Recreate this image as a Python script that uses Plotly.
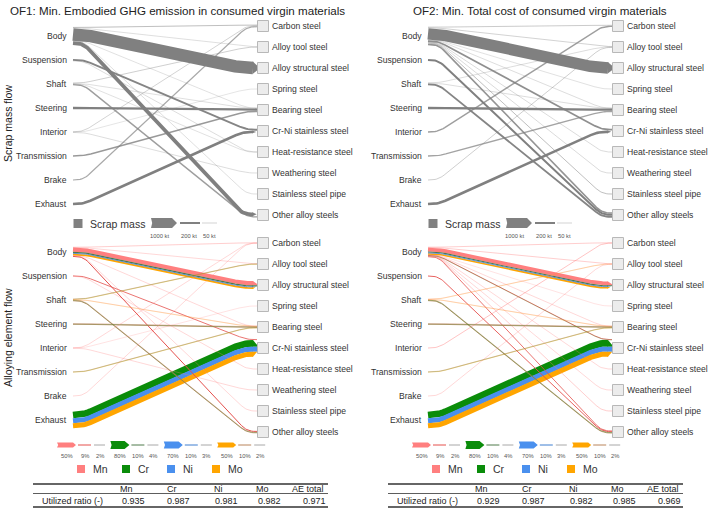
import numpy as np
import plotly.graph_objects as go

# ---------------- data ----------------
SOURCES = ["Body", "Suspension", "Shaft", "Steering", "Interior", "Transmission", "Brake", "Exhaust"]
TARGETS = ["Carbon steel", "Alloy tool steel", "Alloy structural steel", "Spring steel", "Bearing steel",
           "Cr-Ni stainless steel", "Heat-resistance steel", "Weathering steel", "Stainless steel pipe",
           "Other alloy steels"]
ELEMENTS = ["Mn", "Cr", "Ni", "Mo"]
EL_COLORS = {"Mn": "#ff7f7f", "Cr": "#0a8c0a", "Ni": "#4a90ee", "Mo": "#ffa500"}
EL_DARK = {"Mn": "#e5504d", "Cr": "#4f7a4a", "Ni": "#3f7fd0", "Mo": "#b9845a"}

TITLES = ["OF1: Min. Embodied GHG emission in consumed virgin materials",
          "OF2: Min. Total cost of consumed virgin materials"]

# OF1 scrap mass flows (kt)
of1_src = ["Body", "Body", "Body", "Body", "Body", "Body", "Suspension", "Suspension", "Shaft", "Shaft",
           "Shaft", "Shaft", "Steering", "Interior", "Interior", "Interior", "Transmission", "Brake", "Exhaust"]
of1_tgt = ["Carbon steel", "Alloy tool steel", "Alloy structural steel", "Bearing steel", "Stainless steel pipe",
           "Other alloy steels", "Cr-Ni stainless steel", "Heat-resistance steel", "Alloy tool steel",
           "Bearing steel", "Heat-resistance steel", "Other alloy steels", "Bearing steel", "Carbon steel",
           "Spring steel", "Weathering steel", "Bearing steel", "Carbon steel", "Cr-Ni stainless steel"]
of1_kt = [90, 30, 1250, 25, 30, 380, 190, 35, 70, 30, 25, 140, 230, 60, 15, 35, 150, 120, 260]

# OF2 scrap mass flows (kt)
of2_src = ["Body", "Body", "Body", "Body", "Body", "Body", "Body", "Body", "Body", "Body", "Suspension",
           "Shaft", "Shaft", "Shaft", "Steering", "Interior", "Transmission", "Brake", "Exhaust"]
of2_tgt = ["Carbon steel", "Alloy tool steel", "Alloy structural steel", "Spring steel", "Bearing steel",
           "Cr-Ni stainless steel", "Heat-resistance steel", "Weathering steel", "Stainless steel pipe",
           "Other alloy steels", "Other alloy steels", "Alloy tool steel", "Bearing steel", "Other alloy steels",
           "Bearing steel", "Carbon steel", "Bearing steel", "Alloy tool steel", "Cr-Ni stainless steel"]
of2_kt = [80, 60, 1150, 25, 35, 170, 40, 40, 90, 160, 200, 35, 35, 190, 230, 140, 130, 70, 260]

# OF1 alloying element flows (% of element)
of1e_src = ["Body", "Body", "Body", "Body", "Body", "Body", "Body", "Body", "Body",
            "Suspension", "Suspension", "Shaft", "Shaft", "Shaft", "Shaft", "Shaft", "Shaft", "Shaft", "Shaft",
            "Steering", "Steering", "Steering", "Interior", "Interior", "Interior",
            "Transmission", "Transmission", "Transmission", "Brake", "Exhaust", "Exhaust", "Exhaust"]
of1e_tgt = ["Carbon steel", "Alloy tool steel", "Alloy structural steel", "Alloy structural steel",
            "Alloy structural steel", "Alloy structural steel", "Bearing steel", "Stainless steel pipe",
            "Other alloy steels", "Cr-Ni stainless steel", "Heat-resistance steel", "Alloy tool steel",
            "Alloy tool steel", "Alloy tool steel", "Bearing steel", "Bearing steel", "Other alloy steels",
            "Other alloy steels", "Other alloy steels", "Bearing steel", "Bearing steel", "Bearing steel",
            "Carbon steel", "Spring steel", "Weathering steel", "Bearing steel", "Bearing steel", "Bearing steel",
            "Carbon steel", "Cr-Ni stainless steel", "Cr-Ni stainless steel", "Cr-Ni stainless steel"]
of1e_el = ["Mn", "Mn", "Mn", "Cr", "Ni", "Mo", "Mn", "Mn", "Mn", "Mn", "Mn", "Mn", "Cr", "Mo", "Mn", "Mo",
           "Mn", "Cr", "Mo", "Mn", "Cr", "Mo", "Mn", "Mn", "Mn", "Mn", "Cr", "Mo", "Mn", "Cr", "Ni", "Mo"]
of1e_pct = [3, 2, 42, 12, 7, 18, 2, 2, 10, 8, 2, 2, 1, 3, 1, 2, 4, 2, 6, 4, 2, 5, 2, 1, 2, 2, 1, 3, 2, 67, 50, 50]

# OF2 alloying element flows (% of element)
of2e_src = ["Body", "Body", "Body", "Body", "Body", "Body", "Body", "Body", "Body", "Body", "Body", "Body",
            "Body", "Body", "Suspension", "Shaft", "Shaft", "Shaft", "Shaft", "Shaft", "Shaft", "Shaft",
            "Steering", "Steering", "Steering", "Interior", "Transmission", "Transmission", "Transmission",
            "Brake", "Exhaust", "Exhaust", "Exhaust"]
of2e_tgt = ["Carbon steel", "Alloy tool steel", "Alloy structural steel", "Alloy structural steel",
            "Alloy structural steel", "Alloy structural steel", "Spring steel", "Bearing steel",
            "Cr-Ni stainless steel", "Cr-Ni stainless steel", "Heat-resistance steel", "Weathering steel",
            "Stainless steel pipe", "Other alloy steels", "Other alloy steels", "Alloy tool steel",
            "Alloy tool steel", "Bearing steel", "Bearing steel", "Other alloy steels", "Other alloy steels",
            "Other alloy steels", "Bearing steel", "Bearing steel", "Bearing steel", "Carbon steel",
            "Bearing steel", "Bearing steel", "Bearing steel", "Alloy tool steel", "Cr-Ni stainless steel",
            "Cr-Ni stainless steel", "Cr-Ni stainless steel"]
of2e_el = ["Mn", "Mn", "Mn", "Cr", "Ni", "Mo", "Mn", "Mn", "Mn", "Cr", "Mn", "Mn", "Mn", "Mn", "Mn", "Mn",
           "Mo", "Mn", "Mo", "Mn", "Cr", "Mo", "Mn", "Cr", "Mo", "Mn", "Mn", "Cr", "Mo", "Mn", "Cr", "Ni", "Mo"]
of2e_pct = [3, 3, 38, 11, 7, 16, 1, 2, 5, 1, 2, 2, 3, 5, 9, 1, 2, 1, 2, 3, 3, 6, 4, 2, 5, 4, 2, 1, 3, 2,
            67, 50, 50]

# legends
scrap_legend_kt = [1000, 200, 50]
scrap_legend_labels = ["1000 kt", "200 kt", "50 kt"]
el_legend_pct = {"Mn": [50, 9, 2], "Cr": [80, 10, 4], "Ni": [70, 10, 3], "Mo": [50, 10, 2]}

# table
table_header = ["Mn", "Cr", "Ni", "Mo", "AE total"]
table_row_label = "Utilized ratio (-)"
of1_ratio = [0.935, 0.987, 0.981, 0.982, 0.971]
of2_ratio = [0.929, 0.987, 0.982, 0.985, 0.969]

# ---------------- style / geometry ----------------
FONT = "Liberation Sans, Arial, sans-serif"
KT_SCALE = 0.01    # px per kt
PCT_SCALE = 0.1    # px per %
PANEL_X = [0, 355]
SRC_Y0 = {"top": 36, "bottom": 252}
TGT_Y0 = {"top": 26, "bottom": 243}
SRC_STEP, TGT_STEP = 24, 21
X_START, X_END, BOX_X = 73, 257, 263

fig = go.Figure()
annotations = []
shapes = []


def scrap_color(v):
    a = min(1.0, 0.2 + v / 250.0)
    return f"rgba(128,128,128,{a:.2f})"


def el_color(el, pct):
    if pct >= 15:
        return EL_COLORS[el]
    if pct >= 5:
        return EL_DARK[el]
    c = EL_COLORS[el].lstrip("#")
    r, g, b = int(c[0:2], 16), int(c[2:4], 16), int(c[4:6], 16)
    a = 0.18 + 0.1 * pct
    return f"rgba({r},{g},{b},{a:.2f})"


def path(x0, y0, x1, y1, a=10, r=8, n=10):
    q1 = np.array([x0 + a, y0], float)
    q2 = np.array([x1 - a, y1], float)
    d = q2 - q1
    d = d / np.hypot(*d)
    A1, B1 = q1 - np.array([r, 0]), q1 + r * d
    A2, B2 = q2 - r * d, q2 + np.array([r, 0])
    t = np.linspace(0, 1, n)[:, None]
    c1 = (1 - t) ** 2 * A1 + 2 * (1 - t) * t * q1 + t ** 2 * B1
    c2 = (1 - t) ** 2 * A2 + 2 * (1 - t) * t * q2 + t ** 2 * B2
    pts = np.vstack([[x0, y0], c1, c2, [x1, y1]])
    return pts[:, 0], pts[:, 1]


def draw_flows(ox, row, src, tgt, keys, vals, scale, color_fn):
    sy = {s: SRC_Y0[row] + i * SRC_STEP for i, s in enumerate(SOURCES)}
    ty = {t: TGT_Y0[row] + i * TGT_STEP for i, t in enumerate(TARGETS)}
    n = len(vals)
    w = [v * scale for v in vals]
    ek = [ELEMENTS.index(k) if k in ELEMENTS else 0 for k in keys]
    ystart, yend = [0] * n, [0] * n
    for s in SOURCES:
        idx = sorted([i for i in range(n) if src[i] == s], key=lambda i: (TARGETS.index(tgt[i]), ek[i]))
        tot = sum(w[i] for i in idx)
        cur = sy[s] - tot / 2
        for i in idx:
            ystart[i] = cur + w[i] / 2
            cur += w[i]
    for t in TARGETS:
        idx = sorted([i for i in range(n) if tgt[i] == t], key=lambda i: (SOURCES.index(src[i]), ek[i]))
        tot = sum(w[i] for i in idx)
        cur = ty[t] - tot / 2
        for i in idx:
            yend[i] = cur + w[i] / 2
            cur += w[i]
    groups = {}
    for i in range(n):
        groups.setdefault((src[i], tgt[i]), []).append(i)
    x0 = X_START + ox
    x1 = X_END + ox
    order = sorted(range(n), key=lambda i: -w[i])
    for i in order:
        col = color_fn(keys[i], vals[i])
        gtot = sum(w[j] for j in groups[(src[i], tgt[i])])
        has_tip = gtot >= 2.5
        xe = x1 - 4 if has_tip else x1
        px, py = path(x0, ystart[i], xe, yend[i])
        fig.add_trace(go.Scatter(x=px, y=py, mode="lines", line=dict(color=col, width=max(w[i], 0.8)),
                                 hoverinfo="skip", showlegend=False))
    for (s, t), members in groups.items():
        gtot = sum(w[j] for j in members)
        if gtot < 2.5:
            continue
        tip = min(7.0, 2.0 + 0.45 * gtot)
        top = min(yend[j] - w[j] / 2 for j in members)
        yc = top + gtot / 2
        xe = x1 - 4
        for j in members:
            ya, yb = yend[j] - w[j] / 2, yend[j] + w[j] / 2
            f = lambda y: xe + tip * max(0.0, 1 - abs(y - yc) / (gtot / 2))
            xs = [xe - 0.6, f(ya)]
            ys = [ya, ya]
            if ya < yc < yb:
                xs.append(xe + tip)
                ys.append(yc)
            xs += [f(yb), xe - 0.6]
            ys += [yb, yb]
            col = color_fn(keys[j], vals[j])
            fig.add_trace(go.Scatter(x=xs, y=ys, mode="lines", fill="toself", fillcolor=col,
                                     line=dict(width=0, color=col), hoverinfo="skip", showlegend=False))


def draw_nodes(ox, row):
    ty = [TGT_Y0[row] + i * TGT_STEP for i in range(len(TARGETS))]
    fig.add_trace(go.Scatter(x=[BOX_X + ox] * len(TARGETS), y=ty, mode="markers",
                             marker=dict(symbol="square", size=11, color="#ececec",
                                         line=dict(color="#b8b8b8", width=1)),
                             hoverinfo="skip", showlegend=False))
    for i, t in enumerate(TARGETS):
        annotations.append(dict(x=BOX_X + 7 + ox, y=ty[i], text=t, showarrow=False, xanchor="left",
                                yanchor="middle", font=dict(size=8.6, color="#333", family=FONT)))
    for i, s in enumerate(SOURCES):
        annotations.append(dict(x=X_START - 4 + ox, y=SRC_Y0[row] + i * SRC_STEP, text=s, showarrow=False,
                                xanchor="right", yanchor="middle",
                                font=dict(size=8.6, color="#333", family=FONT)))


def chevron(x0, x1, yc, h, col):
    tip = min(5.0, h * 0.6)
    xs = [x0, x1 - tip, x1, x1 - tip, x0, x0 + 1.2, x0]
    ys = [yc - h / 2, yc - h / 2, yc, yc + h / 2, yc + h / 2, yc, yc - h / 2]
    fig.add_trace(go.Scatter(x=xs, y=ys, mode="lines", fill="toself", fillcolor=col,
                             line=dict(width=0, color=col), hoverinfo="skip", showlegend=False))


for p, ox in enumerate(PANEL_X):
    annotations.append(dict(x=[177, 540][p], y=10, text=TITLES[p], showarrow=False, xanchor="center",
                            yanchor="middle", font=dict(size=11.6, color="#222", family=FONT)))
    scr = [(of1_src, of1_tgt, of1_kt), (of2_src, of2_tgt, of2_kt)][p]
    draw_flows(ox, "top", scr[0], scr[1], ["kt"] * len(scr[2]), scr[2], KT_SCALE,
               lambda k, v: scrap_color(v))
    draw_nodes(ox, "top")
    ele = [(of1e_src, of1e_tgt, of1e_el, of1e_pct), (of2e_src, of2e_tgt, of2e_el, of2e_pct)][p]
    draw_flows(ox, "bottom", ele[0], ele[1], ele[2], ele[3], PCT_SCALE, el_color)
    draw_nodes(ox, "bottom")

    # scrap legend
    fig.add_trace(go.Scatter(x=[78 + ox], y=[223.5], mode="markers",
                             marker=dict(symbol="square", size=9, color="#808080"),
                             hoverinfo="skip", showlegend=False))
    annotations.append(dict(x=88 + ox, y=223.5, text="Scrap mass", showarrow=False, xanchor="left",
                            yanchor="middle", font=dict(size=10.5, color="#333", family=FONT)))
    lx = [(151, 177), (180, 200), (202, 217)]
    lab_x = [159, 189, 209]
    for k, v in enumerate(scrap_legend_kt):
        a, b = lx[k]
        h = v * KT_SCALE
        if h >= 2.5:
            chevron(a + ox, b + ox, 223, h, scrap_color(v))
        else:
            fig.add_trace(go.Scatter(x=[a + ox, b + ox], y=[223, 223], mode="lines",
                                     line=dict(color=scrap_color(v), width=max(h, 0.9)),
                                     hoverinfo="skip", showlegend=False))
        annotations.append(dict(x=lab_x[k] + ox, y=235.5, text=scrap_legend_labels[k], showarrow=False,
                                xanchor="center", yanchor="middle",
                                font=dict(size=5.8, color="#555", family=FONT)))

    # element legend
    for e, el in enumerate(ELEMENTS):
        gx = 57 + e * 53.4 + ox
        vals = el_legend_pct[el]
        segs = [(0, 19), (21, 34), (37, 48)]
        for k, v in enumerate(vals):
            a, b = segs[k]
            h = v * PCT_SCALE
            if k == 0:
                chevron(gx + a, gx + b, 445, h, EL_COLORS[el])
            else:
                col = EL_DARK[el] if k == 1 else "#a8a8a8"
                fig.add_trace(go.Scatter(x=[gx + a, gx + b], y=[445, 445], mode="lines",
                                         line=dict(color=col, width=max(h, 1.0)),
                                         hoverinfo="skip", showlegend=False))
            annotations.append(dict(x=gx + (a + b) / 2, y=455.5, text=f"{v}%", showarrow=False,
                                    xanchor="center", yanchor="middle",
                                    font=dict(size=5.8, color="#555", family=FONT)))
        sx = 81 + e * 45 + ox
        fig.add_trace(go.Scatter(x=[sx], y=[469], mode="markers",
                                 marker=dict(symbol="square", size=8, color=EL_COLORS[el]),
                                 hoverinfo="skip", showlegend=False))
        annotations.append(dict(x=sx + 10, y=469, text=el, showarrow=False, xanchor="left",
                                yanchor="middle", font=dict(size=10.5, color="#333", family=FONT)))

    # table
    tx0, tx1 = 33 + ox, 328 + ox
    for yy, lw in [(484, 1.4), (493.5, 0.8), (507, 1.4)]:
        shapes.append(dict(type="line", xref="x", yref="y", x0=tx0, x1=tx1, y0=yy, y1=yy,
                           line=dict(color="#333", width=lw)))
    hx = [118, 165, 212, 254, 290]
    vx = [147, 192, 240, 283, 328]
    ratios = [of1_ratio, of2_ratio][p]
    for k, h in enumerate(table_header):
        annotations.append(dict(x=hx[k] + ox, y=489, text=h, showarrow=False, xanchor="left",
                                yanchor="middle", font=dict(size=9, color="#222", family=FONT)))
        annotations.append(dict(x=vx[k] + ox, y=500.5, text=f"{ratios[k]:.3f}", showarrow=False,
                                xanchor="right", yanchor="middle",
                                font=dict(size=9, color="#222", family=FONT)))
    annotations.append(dict(x=40 + ox, y=500.5, text=table_row_label, showarrow=False, xanchor="left",
                            yanchor="middle", font=dict(size=9, color="#222", family=FONT)))

annotations.append(dict(x=8, y=124, text="Scrap mass flow", textangle=-90, showarrow=False,
                        xanchor="center", yanchor="middle", font=dict(size=10.5, color="#222", family=FONT)))
annotations.append(dict(x=8, y=338, text="Alloying element flow", textangle=-90, showarrow=False,
                        xanchor="center", yanchor="middle", font=dict(size=10.5, color="#222", family=FONT)))

fig.update_layout(
    width=711, height=508, margin=dict(l=0, r=0, t=0, b=0),
    paper_bgcolor="white", plot_bgcolor="white",
    xaxis=dict(range=[0, 711], visible=False, fixedrange=True),
    yaxis=dict(range=[508, 0], visible=False, fixedrange=True),
    annotations=annotations, shapes=shapes, showlegend=False,
)
fig.write_html("out.html", config={"displayModeBar": False},
               post_script="document.body.style.margin='0';document.body.style.overflow='hidden';")
